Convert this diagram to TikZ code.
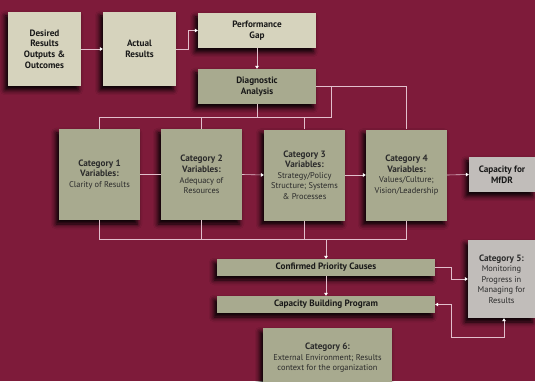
\documentclass[tikz,border=0pt]{standalone}
\usepackage{fontspec}
\setmainfont{PT Sans}
\usetikzlibrary{arrows.meta,shadows.blur}
\definecolor{wine}{HTML}{7E1B3A}
\definecolor{boxbeige}{HTML}{D6D3BD}
\definecolor{boxgreen}{HTML}{A8AA8F}
\definecolor{boxgrey}{HTML}{C1BDBA}
\definecolor{linepink}{HTML}{E2BFCC}
\definecolor{inkgrey}{HTML}{2B2B2B}
\newcommand\hd[1]{{\fontsize{9.2}{10.6}\selectfont\bfseries #1}}
\begin{document}
\begin{tikzpicture}[x=1pt,y=1pt,>={Triangle[width=3.6pt,length=3pt,color=white]},
    box/.style={inner sep=1pt,align=center,text=inkgrey,
        font=\fontsize{8.4}{10.6}\selectfont,
        blur shadow={shadow xshift=-3pt,shadow yshift=-4pt,shadow blur radius=5pt,shadow opacity=100}},
    beigebox/.style={box,fill=boxbeige},
    greenbox/.style={box,fill=boxgreen},
    greybox/.style={box,fill=boxgrey},
    boldtext/.style={font=\fontsize{9.2}{10.6}\selectfont\bfseries,text=black!90},
    link/.style={draw=linepink,line width=0.6pt}]
    \useasboundingbox (0,0) rectangle (535,381);
    \fill[wine] (0,0) rectangle (535,381);
    \clip (0,0) rectangle (535,381);
    % top row
    \node[beigebox,boldtext,minimum width=73,minimum height=74]
        (desired) at (44.5,332) {Desired\\Results\\Outputs \&\\Outcomes};
    \node[beigebox,boldtext,minimum width=73,minimum height=74]
        (actual) at (139.5,332) {Actual\\Results};
    \node[beigebox,boldtext,minimum width=118,minimum height=35]
        (gap) at (257,350.5) {Performance\\Gap};
    \node[greenbox,boldtext,minimum width=118,minimum height=35]
        (diag) at (257,294.5) {Diagnostic\\Analysis};
    % categories
    \node[greenbox,minimum width=81,minimum height=91] (cat1) at (99.5,206.5)
        {\hd{Category 1}\\\hd{Variables:}\\Clarity of Results};
    \node[greenbox,minimum width=81,minimum height=91] (cat2) at (201.5,206.5)
        {\hd{Category 2}\\\hd{Variables:}\\Adequacy of\\Resources};
    \node[greenbox,minimum width=81,minimum height=91] (cat3) at (304.5,206)
        {\hd{Category 3}\\\hd{Variables:}\\Strategy/Policy\\Structure; Systems\\\& Processes};
    \node[greenbox,minimum width=81,minimum height=91] (cat4) at (406.5,206)
        {\hd{Category 4}\\\hd{Variables:}\\Values/Culture;\\Vision/Leadership};
    \node[greybox,boldtext,minimum width=66,minimum height=35]
        (mfdr) at (502,206.5) {Capacity for\\MfDR};
    % lower part
    \node[greenbox,boldtext,minimum width=218,minimum height=17]
        (conf) at (326,113.5) {Confirmed Priority Causes};
    \node[greenbox,boldtext,minimum width=218,minimum height=17]
        (cbp) at (326,76.5) {Capacity Building Program};
    \node[greybox,minimum width=67,minimum height=78] (cat5) at (501.5,102)
        {\hd{Category 5:}\\Monitoring\\Progress in\\Managing for\\Results};
    \node[greenbox,minimum width=129,minimum height=60] (cat6) at (327.5,23)
        {\hd{Category 6:}\\External Environment; Results\\context for the organization};
    % connectors
    \coordinate (topbar) at (331,264);
    \coordinate (lowbar) at (326,142);
    \draw[link,->] (desired.east) -- (actual.west);
    \draw[link,->] (actual.east) -- ++(12,0) |- (gap.west);
    \draw[link,->] (gap.south) -- (diag.north);
    \draw[link] (diag.south) -- (diag.south |- topbar);
    \draw[link] (cat1.north) |- (topbar) -- (topbar |- diag.east);
    \draw[link] (cat2.north) -- (cat2.north |- topbar) (cat3.north) -- (cat3.north |- topbar);
    \draw[link] (diag.east) -| (cat4.north);
    \draw[link] (cat1.east) -- (cat2.west);
    \draw[link,->] (cat2.east) -- (cat3.west);
    \draw[link,->] (cat3.east) -- (cat4.west);
    \draw[link,->] (cat4.east) -- (mfdr.west);
    \draw[link] (cat1.south) |- (cat4.south |- lowbar) -- (cat4.south);
    \draw[link] (cat2.south) -- (cat2.south |- lowbar) (cat3.south) -- (cat3.south |- lowbar);
    \draw[link,->] (lowbar) -- (conf.north);
    \draw[link,->] (conf.south) -- (cbp.north);
    \draw[link,->] (conf.east) -- ++(16,0) |- (cat5.west);
    \draw[link,<->] (cbp.east) -- ++(16,0) |- ++(0,-33) -| ([xshift=2.5pt]cat5.south);
\end{tikzpicture}
\end{document}
